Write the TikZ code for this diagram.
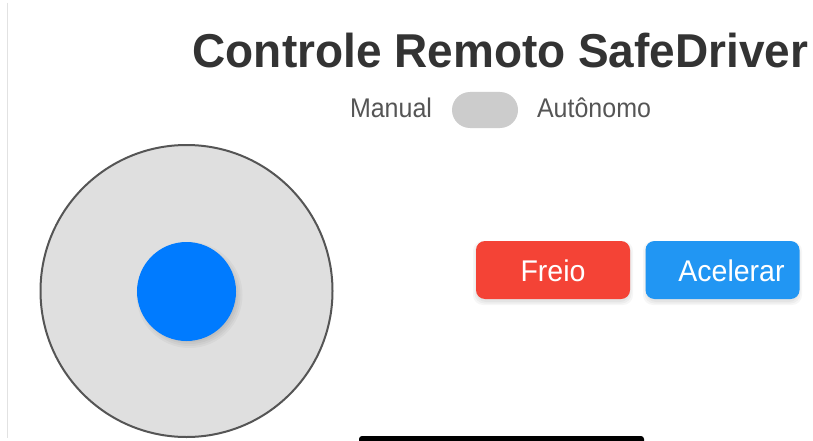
\documentclass[tikz,border=0pt]{standalone}
\usepackage{fontspec}
\setmainfont{Liberation Sans}
\definecolor{titlec}{HTML}{333333}
\definecolor{labelc}{HTML}{555555}
\definecolor{togglec}{HTML}{CCCCCC}
\definecolor{padfill}{HTML}{DFDFDF}
\definecolor{padline}{HTML}{555555}
\definecolor{knobc}{HTML}{007BFF}
\definecolor{brakec}{HTML}{F44336}
\definecolor{accelc}{HTML}{2196F3}
\definecolor{edgec}{HTML}{E2E2E2}
\tikzset{
  btn/.style={draw=none, rounded corners=9pt, minimum width=154pt, minimum height=58pt,
    text=white, font=\fontsize{28.5}{30}\selectfont, inner sep=0pt},
  btntext/.style={text=white, font=\fontsize{28.5}{30}\selectfont, anchor=base, inner sep=0pt},
  lbl/.style={text=labelc, font=\fontsize{25}{27}\selectfont, anchor=base, inner sep=0pt},
  softsh/.style={fill=black, opacity=0.035, draw=none},
}
\begin{document}
\begin{tikzpicture}[x=1pt,y=-1pt]
\useasboundingbox (0,0) rectangle (813,441);
\fill[white] (0,0) rectangle (813,441);
% left edge line
\draw[edgec, line width=1pt] (7,3) -- (7,438);
% title
\node[anchor=base, inner sep=0pt, text=titlec] (title) at (500.5,68)
  {\scalebox{1.045}[1.08]{\fontsize{44}{46}\selectfont\bfseries Controle Remoto SafeDriver}};
% mode toggle
\node[lbl] (manual) at (391,117.5) {\scalebox{1}[1.08]{Manual}};
\node[fill=togglec, rounded corners=18pt, minimum width=66pt, minimum height=36pt, inner sep=0pt] (toggle) at (485,110) {};
\node[lbl] (auto) at (594,117.5) {\scalebox{1}[1.08]{Autônomo}};
% joystick
\node[circle, draw=padline, line width=2pt, fill=padfill, minimum size=292pt, inner sep=0pt] (pad) at (186.5,291) {};
\foreach \r in {45,47,49,51,53}
  \fill[softsh] (189.5,295) circle (\r pt);
\node[circle, fill=knobc, minimum size=99pt, inner sep=0pt] (knob) at (186.5,291.5) {};
% buttons
\foreach \r in {0,1.5,3}
  {\fill[softsh, rounded corners=10pt] (476-\r,243-\r+1) rectangle (630+\r,301+\r+1);
   \fill[softsh, rounded corners=10pt] (646-\r,243-\r+1) rectangle (799+\r,301+\r+1);}
\node[btn, fill=brakec] (freio) at (553,270) {};
\node[btn, fill=accelc] (acel) at (722.5,270) {};
\node[btntext] (freiot) at (553,281) {\scalebox{1}[1.05]{Freio}};
\node[btntext] (acelt) at (731.5,281) {\scalebox{1}[1.05]{Acelerar}};
% bottom bar
\fill[black, rounded corners=3pt] (359,445) rectangle (644,436);
\node[inner sep=0pt, minimum size=0pt] (bar) at (501.5,438.5) {};
\end{tikzpicture}
\end{document}
